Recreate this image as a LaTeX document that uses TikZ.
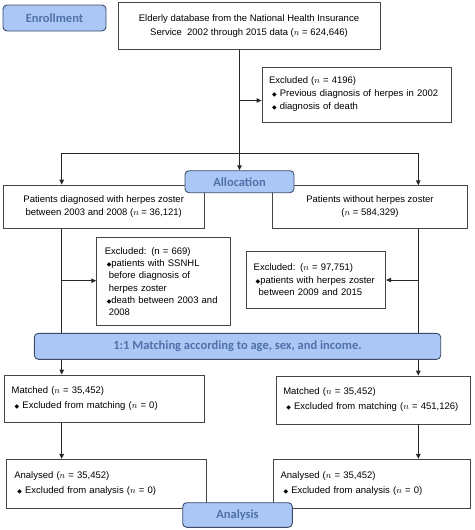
\documentclass[tikz,border=0pt]{standalone}
\usepackage{fontspec}
\setmainfont{Liberation Sans}
\newfontfamily\dejavu{DejaVu Sans}
\newfontfamily\labfont{Carlito}
\usetikzlibrary{arrows.meta,calc}
\definecolor{boxline}{RGB}{70,70,70}
\definecolor{labfill}{RGB}{170,199,245}
\definecolor{labline}{RGB}{60,75,105}
\definecolor{labtext}{RGB}{80,112,168}
\definecolor{conn}{RGB}{40,40,40}
\newcommand\bul{{\dejavu\fontsize{6}{6}\selectfont ◆}}
\begin{document}
\begin{tikzpicture}[x=1pt,y=-1pt,
  box/.style={draw=boxline, line width=0.8pt, fill=white, inner sep=0pt,
    font=\fontsize{9.5}{13}\selectfont},
  cbox/.style={box, align=center},
  lbox/.style={box, align=left},
  lab/.style={draw=labline, line width=0.9pt, fill=labfill, rounded corners=4pt,
    inner sep=0pt, text=labtext, font=\labfont\bfseries\fontsize{12.5}{14}\selectfont},
  conline/.style={draw=conn, line width=1pt},
  arr/.style={conline, -{Triangle[length=5pt,width=4.5pt]}}]
\useasboundingbox (0,0) rectangle (474,530);

% boxes
\node[cbox, minimum width=262, minimum height=47, font=\fontsize{9.5}{14}\selectfont] (top) at (249,26.3)
  {Elderly database from the National Health Insurance\\Service\ \ 2002 through 2015 data ($n$ = 624,646)};
\node[lbox, minimum width=189, minimum height=55, text width=175] (ex1) at (356.5,94.5)
  {Excluded ($n$ = 4196)\\[0pt]
   \hspace{3pt}\bul\ Previous diagnosis of herpes in 2002\\
   \hspace{3pt}\bul\ diagnosis of death};
\node[cbox, minimum width=200.7, minimum height=43.3] (lb) at (103.7,206.7)
  {Patients diagnosed with herpes zoster\\between 2003 and 2008 ($n$ = 36,121)};
\node[cbox, minimum width=194.6, minimum height=42.6] (rb) at (370,207)
  {Patients without herpes zoster\\($n$ = 584,329)};
\node[lbox, minimum width=133.3, minimum height=88, text width=117, font=\fontsize{9.5}{12.3}\selectfont] (ex2) at (163.3,281.7)
  {Excluded: (n = 669)\\
   \hspace{2pt}\bul patients with SSNHL\\
   \hspace{4pt}before diagnosis of\\
   \hspace{4pt}herpes zoster\\
   \hspace{2pt}\bul death between 2003 and\\
   \hspace{4pt}2008};
\node[lbox, minimum width=139, minimum height=56.6, text width=125, font=\fontsize{9.5}{12.5}\selectfont] (ex3) at (316.2,280)
  {Excluded: ($n$ = 97,751)\\
   \hspace{2pt}\bul patients with herpes zoster\\
   \hspace{5pt}between 2009 and 2015};
\node[lbox, minimum width=200, minimum height=47.7, text width=184.6] (ml) at (104,398.8)
  {Matched ($n$ = 35,452)\\[2pt]
   \hspace{3pt}\bul\ Excluded from matching ($n$ = 0)};
\node[lbox, minimum width=194.7, minimum height=48, text width=180] (mr) at (373.3,400)
  {Matched ($n$ = 35,452)\\[2pt]
   \hspace{3pt}\bul\ Excluded from matching ($n$ = 451,126)};
\node[lbox, minimum width=199.3, minimum height=49, text width=184] (al) at (106.3,483.8)
  {Analysed ($n$ = 35,452)\\[2pt]
   \hspace{3pt}\bul\ Excluded from analysis ($n$ = 0)};
\node[lbox, minimum width=197.4, minimum height=49, text width=183] (ar) at (372,483.8)
  {Analysed ($n$ = 35,452)\\[2pt]
   \hspace{3pt}\bul\ Excluded from analysis ($n$ = 0)};

% labels
\node[lab, minimum width=103, minimum height=26] (enr) at (54.5,18) {Enrollment};
\node[lab, minimum width=109, minimum height=22] (alloc) at (239.5,181.7) {Allocation};
\node[lab, minimum width=406.4, minimum height=26] (match) at (237.5,346.3) {1:1 Matching according to age, sex, and income.};
\node[lab, minimum width=109.6, minimum height=24.6] (anal) at (237.5,515) {Analysis};

% connector columns
\coordinate (xl) at (61.7,153.3);
\coordinate (xr) at (418.3,153.3);
\coordinate (jc) at (alloc.north |- xl);

% connectors
\draw[conline] (alloc.north |- top.south) -- (jc);
\draw[arr] ([yshift=-6pt]ex1.west -| jc) -- ([yshift=-6pt]ex1.west);
\draw[conline] (xl) -- (xr);
\draw[arr] (xl) -- (xl |- lb.north);
\draw[arr] (jc) -- (alloc.north);
\draw[arr] (xr) -- (xr |- rb.north);
\draw[conline] (xl |- lb.south) -- (xl |- match.north);
\draw[arr] (xl |- ex2.west) ++(0,-1) coordinate (a2) -- (ex2.west |- a2);
\draw[conline] (xr |- rb.south) -- (xr |- match.north);
\draw[arr] (xr |- ex3.east) -- (ex3.east);
\draw[arr] (xl |- match.south) -- (xl |- ml.north);
\draw[arr] (xr |- match.south) -- (xr |- mr.north);
\draw[arr] (xl |- ml.south) -- (xl |- al.north);
\draw[arr] (xr |- mr.south) -- (xr |- ar.north);
\end{tikzpicture}
\end{document}
